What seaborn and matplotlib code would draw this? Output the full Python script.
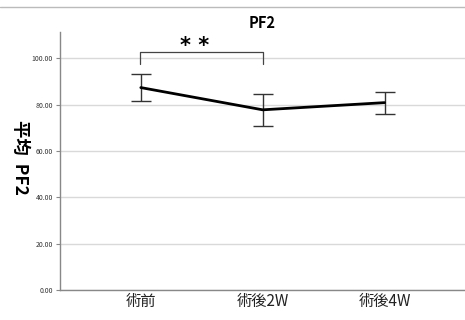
import numpy as np
import pandas as pd
import matplotlib
matplotlib.use("Agg")
import matplotlib.pyplot as plt
import seaborn as sns

# values
labels = ["術前", "術後2W", "術後4W"]
means = [87.4, 77.8, 80.9]
upper = [93.2, 84.8, 85.5]
lower = [81.6, 70.9, 76.2]
yticks = [0, 20, 40, 60, 80, 100]

sns.set_style("white")
plt.rcParams['font.family'] = ['Noto Sans CJK JP', 'DejaVu Sans']

df = pd.DataFrame({"pos": np.arange(len(labels)), "mean": means})

fig = plt.figure(figsize=(4.65, 3.2), dpi=100)
ax = fig.add_axes([60/465, 30/320, 1 - 60/465, 258/320])

# error bars
err = [np.array(means) - np.array(lower), np.array(upper) - np.array(means)]
ax.errorbar(df["pos"], df["mean"], yerr=err, fmt="none", ecolor="#333333",
            elinewidth=1, capsize=7, capthick=1, zorder=3)
sns.lineplot(data=df, x="pos", y="mean", color="black", lw=2, ax=ax, zorder=4)

ax.set_xlim(-0.663, 2.66)
ax.set_ylim(0, 111.4)
ax.set_yticks(yticks)
ax.set_yticklabels([f"{v:.2f}" for v in yticks], fontsize=5, color="#333333")
ax.set_xticks(df["pos"])
ax.set_xticklabels(labels, fontsize=11, color="#222222")
ax.tick_params(axis="x", length=0, pad=2)
ax.tick_params(axis="y", length=3, width=0.8, color="#888888", left=True, pad=2)
ax.yaxis.grid(True, color="#d9d9d9", lw=1)
ax.set_axisbelow(True)
for s in ["top", "right"]:
    ax.spines[s].set_visible(False)
for s in ["left", "bottom"]:
    ax.spines[s].set_color("#888888")
    ax.spines[s].set_linewidth(1)

ax.set_xlabel("")
ax.set_ylabel("平均  PF2", fontsize=12.5, fontweight="bold", rotation=270,
              color="black", va="center")
ax.yaxis.set_label_coords(-0.099, 0.515)
ax.set_title("PF2", fontsize=10.5, fontweight="bold", color="black", pad=3)

# significance bracket
ax.plot([-0.01, -0.01, 1.0, 1.0], [97.5, 102.8, 102.8, 97.5], color="#444444", lw=0.9)
ax.text(0.44, 101.0, "* *", ha="center", va="bottom", fontsize=15,
        fontweight="bold", family="DejaVu Sans", color="black")

# top separator line
fig.add_artist(plt.Line2D([0, 1], [1 - 7/320, 1 - 7/320], color="#bbbbbb", lw=1))

fig.savefig("out.png", dpi=100)
